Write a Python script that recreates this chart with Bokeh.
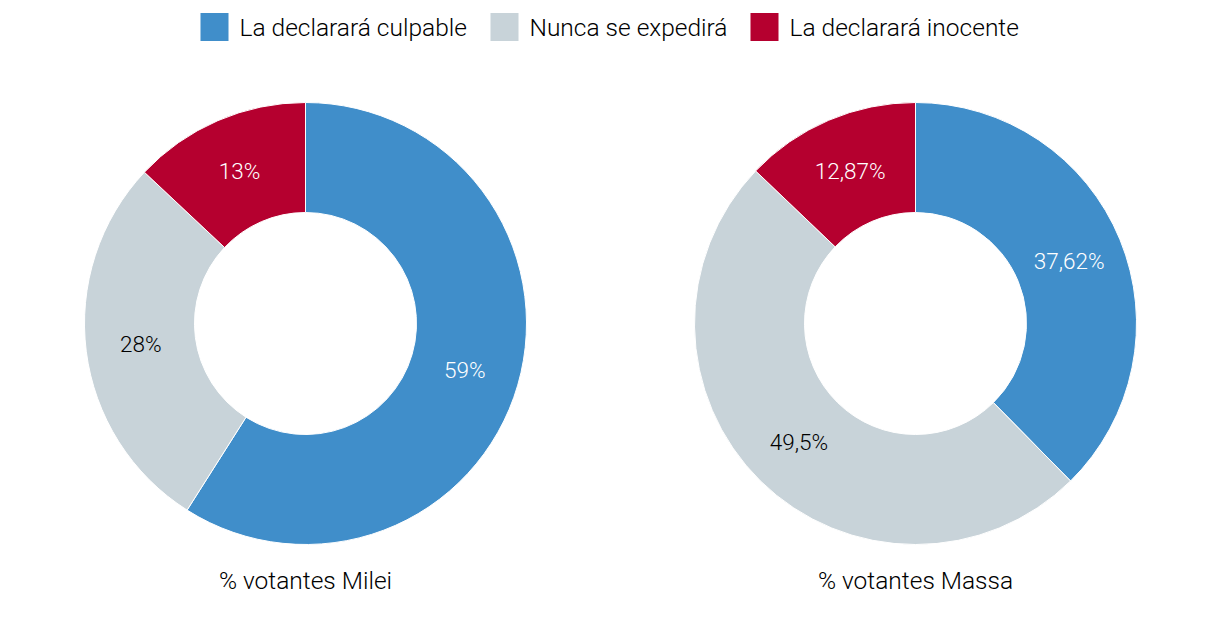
import math
from bokeh.plotting import figure
from bokeh.models import Range1d, ColumnDataSource
from bokeh.core.properties import value
from bokeh.embed import file_html
from bokeh.resources import INLINE

categories = ["La declarará culpable", "Nunca se expedirá", "La declarará inocente"]
colors = ["#408ECA", "#C8D3D9", "#B5002F"]
text_colors = ["white", "black", "white"]
milei_values = [59, 28, 13]
milei_labels = ["59%", "28%", "13%"]
massa_values = [37.62, 49.5, 12.87]
massa_labels = ["37,62%", "49,5%", "12,87%"]
titles = ["% votantes Milei", "% votantes Massa"]

W, H = 1204, 610
FONT = value("'Roboto Light', Roboto, sans-serif")

p = figure(width=W, height=H, x_range=Range1d(0, W), y_range=Range1d(0, H),
           output_backend="svg", toolbar_location=None, min_border=0)
p.axis.visible = False
p.grid.visible = False
p.outline_line_color = None
p.background_fill_color = "white"

R_OUT, R_IN = 221, 111
R_LAB = (R_OUT + R_IN) / 2
centers = [(305, 287), (915, 287)]

for (cx, cy), vals, labs, title in zip(centers, [milei_values, massa_values],
                                        [milei_labels, massa_labels], titles):
    total = sum(vals)
    starts, ends, lx, ly = [], [], [], []
    cum = 0.0
    for v in vals:
        a0 = math.pi / 2 - 2 * math.pi * cum / total
        cum += v
        a1 = math.pi / 2 - 2 * math.pi * cum / total
        starts.append(a0)
        ends.append(a1)
        mid = (a0 + a1) / 2
        lx.append(cx + R_LAB * math.cos(mid))
        ly.append(cy + R_LAB * math.sin(mid))
    src = ColumnDataSource(dict(start=starts, end=ends, color=colors,
                                lx=lx, ly=ly, lab=labs, tc=text_colors))
    p.annular_wedge(x=cx, y=cy, inner_radius=R_IN, outer_radius=R_OUT,
                    start_angle="start", end_angle="end", direction="clock",
                    fill_color="color", line_color="white", line_width=1,
                    source=src)
    p.text(x="lx", y="ly", text="lab", text_color="tc", source=src,
           text_font=FONT, text_font_size="22.5px",
           text_align="center", text_baseline="middle")
    p.text(x=[cx], y=[30], text=[title], text_font=FONT, text_font_size="24.5px",
           text_color="black", text_align="center", text_baseline="middle")

# legend
leg_x = [214, 504, 764]
leg_src = ColumnDataSource(dict(x=leg_x, tx=[x + 25 for x in leg_x], y=[583.5] * 3,
                                color=colors, lab=categories))
p.rect(x="x", y="y", width=28, height=28, fill_color="color", line_color=None,
       source=leg_src)
p.text(x="tx", y="y", text="lab", source=leg_src, text_font=FONT,
       text_font_size="24.5px", text_color="black", text_align="left",
       text_baseline="middle")

open("out.html", "w").write(file_html(p, INLINE))
